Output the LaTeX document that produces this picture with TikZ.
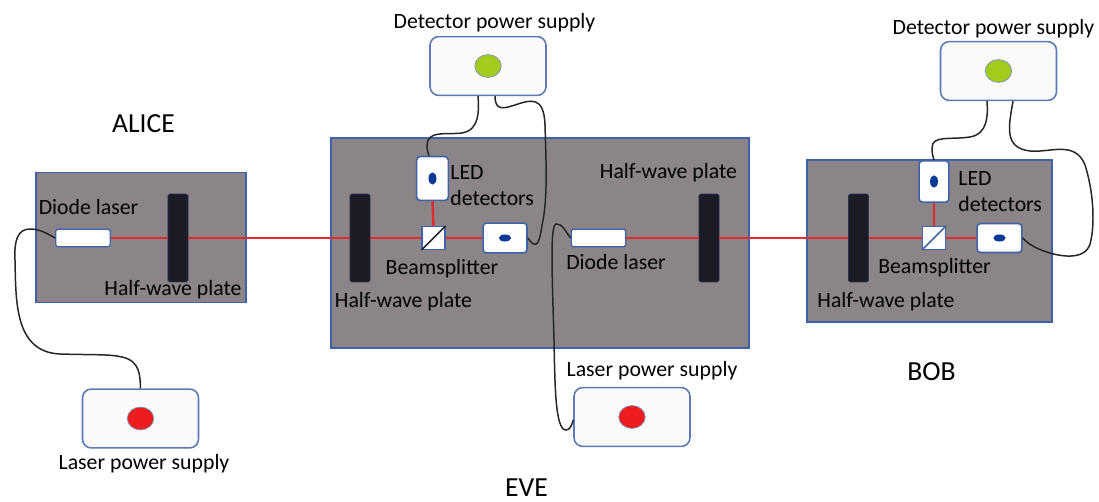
\documentclass[tikz,border=0pt]{standalone}
\usepackage{fontspec}
\setmainfont{Carlito}
\definecolor{benchgray}{HTML}{8C8587}
\definecolor{edgeblue}{HTML}{3F62A8}
\definecolor{platedark}{HTML}{1B1B25}
\definecolor{beamred}{HTML}{DE2B33}
\definecolor{ledgreen}{HTML}{A2CB1E}
\definecolor{ledred}{HTML}{EE1C1C}
\definecolor{leddark}{HTML}{0B3A96}
\usetikzlibrary{shapes.geometric}
\tikzset{
	bench/.style={draw=edgeblue, fill=benchgray, line width=1.1pt, inner sep=0pt},
	plate/.style={draw=edgeblue!40!platedark, fill=platedark, rounded corners=1pt, inner sep=0pt, minimum width=11.5pt, minimum height=50pt},
	diode/.style={draw=edgeblue, fill=white, rounded corners=1pt, line width=0.8pt, inner sep=0pt, minimum width=31pt, minimum height=10pt},
	splitter/.style={draw=edgeblue, fill=white, line width=0.8pt, inner sep=0pt, minimum width=13pt, minimum height=13pt},
	detector/.style={draw=edgeblue, fill=white, rounded corners=2pt, line width=0.9pt, inner sep=0pt},
	supply/.style={draw=edgeblue!85, fill=white!96!gray, rounded corners=5pt, line width=0.9pt, inner sep=0pt, minimum width=66pt, minimum height=33.5pt},
	lamp/.style={draw=edgeblue!70, ellipse, line width=0.4pt, inner sep=0pt, minimum width=15pt, minimum height=13pt},
	spot/.style={fill=leddark, ellipse, inner sep=0pt},
	beam/.style={draw=beamred, line width=1.4pt},
	thinbeam/.style={draw=beamred, line width=1pt},
	cable/.style={draw=black!85, line width=0.85pt},
	tag/.style={inner sep=0pt, font=\fontsize{12.4pt}{14pt}\selectfont, text=black},
	dimtag/.style={tag, font=\fontsize{12.4pt}{14.7pt}\selectfont, align=left},
	party/.style={inner sep=0pt, font=\fontsize{15.7pt}{18pt}\selectfont, text=black}
}
\begin{document}
\begin{tikzpicture}[x=0.02cm, y=-0.02cm]
		\useasboundingbox (0, 0) rectangle (1099, 502);

		\node[bench, minimum width=119pt, minimum height=74pt]	(alicebox) at (141, 237.5) {};
		\node[bench, minimum width=238pt, minimum height=120pt]	(evebox) at (540, 243) {};
		\node[bench, minimum width=139pt, minimum height=92pt]	(bobbox) at (929.5, 241) {};

		\node[diode]	(alicediode) at (83, 238) {};
		\node[plate]	(aliceplate) at (178, 238) {};

		\node[plate]	(eveplatel) at (360, 238) {};
		\node[splitter]	(evesplit) at (433.5, 238) {};
		\node[detector, minimum width=18pt, minimum height=25pt]	(evedetup) at (432.5, 178.5) {};
		\node[detector, minimum width=25pt, minimum height=17pt]	(evedetr) at (505, 238) {};
		\node[diode]	(evediode) at (598.5, 238) {};
		\node[plate]	(eveplater) at (709, 238) {};

		\node[plate]	(bobplate) at (858.5, 238) {};
		\node[splitter]	(bobsplit) at (934, 238) {};
		\node[detector, minimum width=17pt, minimum height=23.5pt]	(bobdetup) at (934, 181.5) {};
		\node[detector, minimum width=25.5pt, minimum height=16.5pt]	(bobdetr) at (999.5, 238) {};

		\node[supply]	(alicesupply) at (140.5, 418.5) {};
		\node[supply]	(evedetsupply) at (488, 66) {};
		\node[supply]	(evelasersupply) at (632, 417) {};
		\node[supply]	(bobsupply) at (998.5, 71) {};

		\node[lamp, fill=ledred]	(alicelamp) at (alicesupply) {};
		\node[lamp, fill=ledgreen]	(evedetlamp) at (evedetsupply) {};
		\node[lamp, fill=ledred]	(evelaserlamp) at (evelasersupply) {};
		\node[lamp, fill=ledgreen]	(boblamp) at (bobsupply) {};

		\node[spot, minimum width=4.5pt, minimum height=7pt]	(evespotup) at (evedetup) {};
		\node[spot, minimum width=7pt, minimum height=4pt]	(evespotr) at (evedetr) {};
		\node[spot, minimum width=4.5pt, minimum height=7pt]	(bobspotup) at (bobdetup) {};
		\node[spot, minimum width=7pt, minimum height=4pt]	(bobspotr) at (bobdetr) {};

		\path[beam]	(alicediode.east) to (aliceplate.west);
		\path[thinbeam]	(aliceplate.east) to (eveplatel.west);
		\path[beam]	(eveplatel.east) to (evesplit.west);
		\path[beam]	(evesplit.east) to (evedetr.west);
		\path[beam]	(evesplit.north) to (evedetup.south);
		\path[beam]	(evediode.east) to (eveplater.west);
		\path[thinbeam]	(eveplater.east) to (bobplate.west);
		\path[beam]	(bobplate.east) to (bobsplit.west);
		\path[beam]	(bobsplit.east) to (bobdetr.west);
		\path[beam]	(bobsplit.north) to (bobdetup.south);

		\draw[black!85, line width=0.9pt]	(evesplit.south west) to (evesplit.north east);
		\draw[edgeblue, line width=0.9pt]	(bobsplit.south west) to (bobsplit.north east);

		\path[cable]	(alicediode.west) .. controls (45, 232) and (38, 229) .. (30, 229)
						.. controls (18, 229) and (14, 240) .. (15, 260)
						.. controls (16, 300) and (14, 352) .. (60, 354)
						.. controls (90, 355) and (110, 354) .. (122, 357)
						.. controls (140, 361) and (140, 375) .. (alicesupply.north);

		\path[cable]	(evedetsupply.south -| 478, 0) .. controls (479, 110) and (480, 130) .. (462, 133)
						.. controls (445, 135) and (428, 130) .. (427, 145)
						.. controls (427, 150) and (428, 153) .. (evedetup.north -| 429, 0);
		\path[cable]	(evedetsupply.south -| 495, 0) .. controls (495, 112) and (505, 108) .. (515, 105)
						.. controls (530, 100) and (544, 95) .. (545, 125)
						.. controls (546, 160) and (548, 200) .. (542, 225)
						.. controls (539, 248) and (535, 248) .. (evedetr.east);

		\path[cable]	(evediode.west) .. controls (566, 232) and (562, 223) .. (556, 224)
						.. controls (550, 226) and (552, 270) .. (554, 340)
						.. controls (555, 385) and (555, 430) .. (566, 430)
						.. controls (570, 430) and (572, 425) .. (evelasersupply.west |- 0, 420);

		\path[cable]	(bobsupply.south -| 987, 0) .. controls (988, 115) and (988, 134) .. (970, 137)
						.. controls (950, 140) and (932, 135) .. (932, 148)
						.. controls (932, 154) and (933, 157) .. (bobdetup.north);
		\path[cable]	(bobsupply.south -| 1013, 0) .. controls (1009, 125) and (1003, 148) .. (1030, 151)
						.. controls (1050, 153) and (1075, 140) .. (1085, 165)
						.. controls (1093, 190) and (1095, 220) .. (1091, 240)
						.. controls (1088, 262) and (1060, 256) .. (1050, 253)
						.. controls (1040, 250) and (1030, 246) .. (bobdetr.east);

		\node[tag]	(alicediodetag) at (88.5, 207) {Diode laser};
		\node[tag]	(aliceplatetag) at (173, 290) {Half-wave plate};
		\node[tag]	(alicesupplytag) at (144, 463.5) {Laser power supply};

		\node[tag]	(evedettag) at (494.5, 22.5) {Detector power supply};
		\node[dimtag, anchor=north west]	(eveledtag) at (450, 165) {LED\\detectors};
		\node[tag]	(evesplittag) at (442, 269) {Beamsplitter};
		\node[tag]	(eveplateltag) at (403.5, 302) {Half-wave plate};
		\node[tag]	(evediodetag) at (616, 262) {Diode laser};
		\node[tag]	(eveplatertag) at (668.5, 173) {Half-wave plate};
		\node[tag]	(evelasertag) at (652, 371) {Laser power supply};

		\node[tag]	(bobdettag) at (993.5, 29) {Detector power supply};
		\node[dimtag, anchor=north west]	(bobledtag) at (958, 171) {LED\\detectors};
		\node[tag]	(bobsplittag) at (934.5, 268) {Beamsplitter};
		\node[tag]	(bobplatetag) at (886, 302) {Half-wave plate};

		\node[party]	(alicename) at (143.5, 124) {ALICE};
		\node[party]	(evename) at (526.5, 488) {EVE};
		\node[party]	(bobname) at (931.5, 372) {BOB};
	\end{tikzpicture}
\end{document}
